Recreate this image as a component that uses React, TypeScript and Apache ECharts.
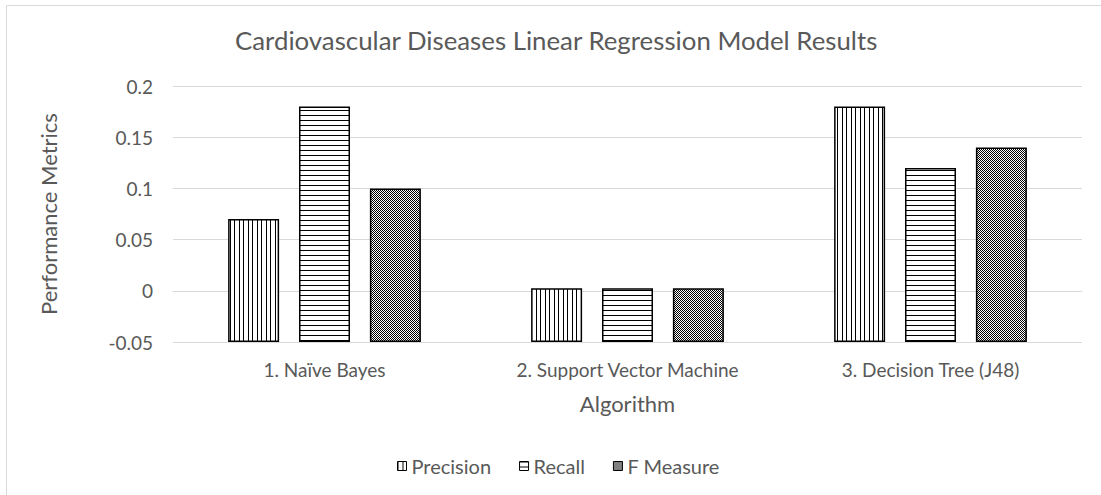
import React, { useEffect, useRef } from "react";
import * as echarts from "echarts";

const categories = ["1. Naïve Bayes", "2. Support Vector Machine", "3. Decision Tree (J48)"];
const seriesNames = ["Precision", "Recall", "F Measure"];
const precision = [0.07, 0.0025, 0.18];
const recall = [0.18, 0.0025, 0.12];
const fMeasure = [0.1, 0.0025, 0.14];
const yTicks = { min: -0.05, max: 0.2, interval: 0.05 };

const TEXT = "#595959";
const GRID = "#d9d9d9";
const FONT = "Lato";

function makePattern(kind: string) {
  const c = document.createElement("canvas");
  const ctx = c.getContext("2d")!;
  if (kind === "v") {
    c.width = 9; c.height = 4;
    ctx.fillStyle = "#fff"; ctx.fillRect(0, 0, 9, 4);
    ctx.fillStyle = "#000"; ctx.fillRect(0, 0, 1, 4); ctx.fillRect(5, 0, 1, 4);
  } else if (kind === "h") {
    c.width = 4; c.height = 5;
    ctx.fillStyle = "#fff"; ctx.fillRect(0, 0, 4, 5);
    ctx.fillStyle = "#000"; ctx.fillRect(0, 0, 4, 1);
  } else {
    c.width = 2; c.height = 2;
    ctx.fillStyle = "#fff"; ctx.fillRect(0, 0, 2, 2);
    ctx.fillStyle = "#000"; ctx.fillRect(0, 0, 1, 1); ctx.fillRect(1, 1, 1, 1);
  }
  return { image: c, repeat: "repeat" } as any;
}

export default function App() {
  const ref = useRef<HTMLDivElement>(null);
  useEffect(() => {
    if (!ref.current) return;
    const chart = echarts.init(ref.current, null, { renderer: "svg" });
    const patterns = [makePattern("v"), makePattern("h"), makePattern("c")];
    const values = [precision, recall, fMeasure];
    chart.setOption({
      animation: false,
      backgroundColor: "#fff",
      title: {
        text: "Cardiovascular Diseases Linear Regression Model Results",
        left: 235,
        top: 27,
        padding: 0,
        textStyle: { fontFamily: FONT, fontSize: 25.8, fontWeight: "normal", color: TEXT },
      },
      legend: {
        data: seriesNames,
        top: 456,
        left: 397,
        padding: 0,
        icon: "rect",
        itemWidth: 9,
        itemHeight: 9,
        itemGap: 28,
        itemStyle: { borderColor: "#000", borderWidth: 1 },
        textStyle: { fontFamily: FONT, fontSize: 20, color: TEXT },
      },
      graphic: [
        {
          type: "rect",
          silent: true,
          shape: { x: 6.5, y: 5.5, width: 1200, height: 600 },
          style: { fill: "none", stroke: GRID, lineWidth: 1 },
        },
      ],
      grid: { left: 173, right: 19, top: 86, bottom: 153 },
      xAxis: {
        type: "category",
        data: categories,
        axisTick: { show: false },
        axisLine: { lineStyle: { color: GRID } },
        axisLabel: { fontFamily: FONT, fontSize: 19, color: TEXT, margin: 18 },
        name: "Algorithm",
        nameLocation: "middle",
        nameGap: 50,
        nameTextStyle: { fontFamily: FONT, fontSize: 22, color: TEXT },
      },
      yAxis: {
        type: "value",
        min: yTicks.min,
        max: yTicks.max,
        interval: yTicks.interval,
        startValue: yTicks.min,
        axisLine: { show: false },
        axisTick: { show: false },
        splitLine: { lineStyle: { color: GRID } },
        axisLabel: { fontFamily: FONT, fontSize: 19, color: TEXT, margin: 20 },
        name: "Performance Metrics",
        nameLocation: "middle",
        nameGap: 114,
        nameRotate: 90,
        nameTextStyle: { fontFamily: FONT, fontSize: 22, color: TEXT },
      },
      series: seriesNames.map((name, i) => ({
        name,
        type: "bar",
        data: values[i],
        barWidth: 51,
        barGap: "39%",
        itemStyle: { color: patterns[i], borderColor: "#000", borderWidth: 1.5 },
      })),
    });
    return () => chart.dispose();
  }, []);
  return (
    <div
      ref={ref}
      style={{ position: "absolute", left: 0, top: 0, width: 1101, height: 495, background: "#fff" }}
    />
  );
}
